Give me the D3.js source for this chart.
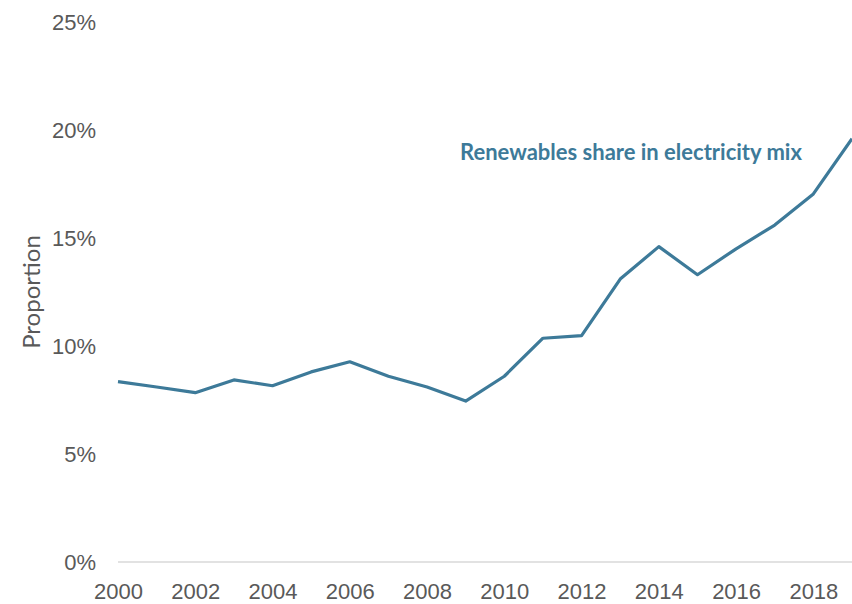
<!DOCTYPE html>
<html>
<head>
<meta charset="utf-8">
<script src="https://cdn.jsdelivr.net/npm/d3@7"></script>
<style>
  body { margin: 0; background: #fff; }
  svg { display: block; font-family: Lato, "Open Sans", sans-serif; }
</style>
</head>
<body>
<script>
// Years and renewables share (%)
const years = [2000, 2001, 2002, 2003, 2004, 2005, 2006, 2007, 2008, 2009,
               2010, 2011, 2012, 2013, 2014, 2015, 2016, 2017, 2018, 2019];
const shares = [8.35, 8.1, 7.84, 8.43, 8.16, 8.8, 9.27, 8.6, 8.1, 7.45,
                8.6, 10.36, 10.48, 13.1, 14.6, 13.3, 14.5, 15.6, 17.04, 19.6];
const yTicks = [0, 5, 10, 15, 20, 25];
const xTicks = [2000, 2002, 2004, 2006, 2008, 2010, 2012, 2014, 2016, 2018];
const seriesLabel = "Renewables share in electricity mix";

const w = 852, h = 604;
const margin = {top: 22, right: 0, bottom: 42, left: 118};

const svg = d3.select("body").append("svg")
  .attr("width", w)
  .attr("height", h);

const x = d3.scaleLinear()
  .domain([2000, 2019])
  .range([margin.left, w - margin.right]);

const y = d3.scaleLinear()
  .domain([0, 25])
  .range([h - margin.bottom, margin.top]);

// baseline
svg.append("line")
  .attr("x1", x(2000)).attr("x2", x(2019))
  .attr("y1", y(0)).attr("y2", y(0))
  .attr("stroke", "#d9d9d9")
  .attr("stroke-width", 1.5);

// y axis labels
svg.append("g")
  .attr("transform", "translate(" + (margin.left - 22) + ",0)")
  .call(d3.axisLeft(y).tickValues(yTicks).tickSize(0).tickFormat(d => d + "%"))
  .call(g => g.select(".domain").remove())
  .call(g => g.selectAll("text")
    .attr("fill", "#595959")
    .style("font-size", "22px")
    .attr("x", 0)
    .attr("dy", "0.35em"));

// x axis labels
svg.append("g")
  .attr("transform", "translate(0," + (y(0) + 20) + ")")
  .call(d3.axisBottom(x).tickValues(xTicks).tickSize(0).tickFormat(d3.format("d")))
  .call(g => g.select(".domain").remove())
  .call(g => g.selectAll("text")
    .attr("fill", "#595959")
    .style("font-size", "22px")
    .attr("y", 0)
    .attr("dy", "0.75em"));

// axis title
svg.append("text")
  .attr("transform", "translate(40," + 292 + ") rotate(-90)")
  .attr("text-anchor", "middle")
  .attr("fill", "#595959")
  .style("font-size", "24px")
  .text("Proportion");

// the line
const line = d3.line()
  .x((d, i) => x(years[i]))
  .y(d => y(d));

svg.append("path")
  .datum(shares)
  .attr("fill", "none")
  .attr("stroke", "#3d7a99")
  .attr("stroke-width", 3.2)
  .attr("stroke-linejoin", "round")
  .attr("d", line);

// series label
svg.append("text")
  .attr("x", 460)
  .attr("y", y(19) + 8)
  .attr("fill", "#3d7a99")
  .style("font-size", "22px")
  .style("font-weight", "bold")
  .text(seriesLabel);
</script>
</body>
</html>
